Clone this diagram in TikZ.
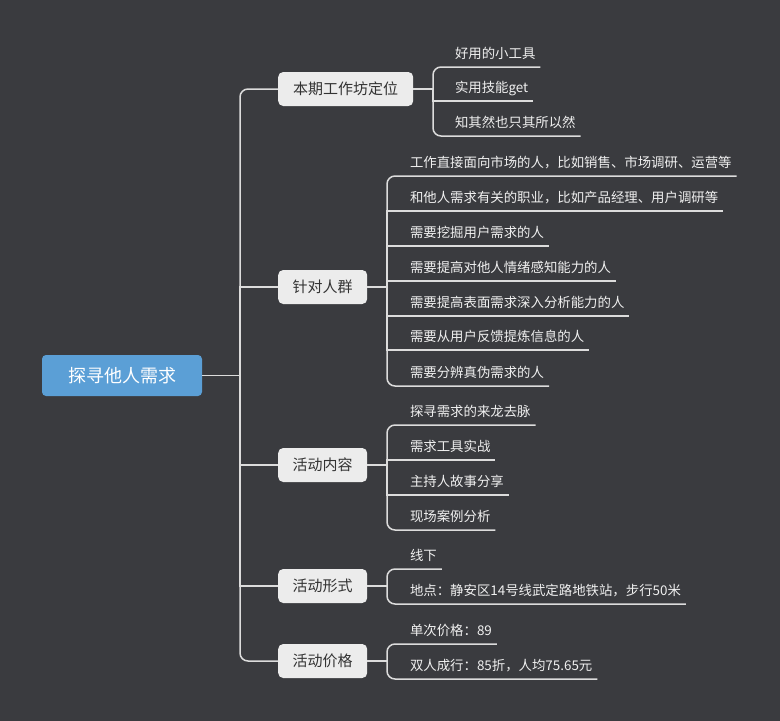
\documentclass[tikz,border=0pt]{standalone}
\usepackage{fontspec}
\setmainfont{Noto Sans CJK SC}
\usetikzlibrary{calc}
\definecolor{bgc}{HTML}{3A3B3F}
\definecolor{rootc}{HTML}{5B9FD6}
\definecolor{lonec}{HTML}{ECECEC}
\definecolor{linec}{HTML}{DCDCDC}
\definecolor{ltext}{HTML}{333333}
\tikzset{
  rootnode/.style={draw=none, fill=rootc, rounded corners=4pt, minimum width=160pt, minimum height=41pt, text=white, font=\fontsize{18}{20}\selectfont, inner sep=0pt},
  lonenode/.style={draw=none, fill=lonec, rounded corners=5pt, minimum height=34pt, text=ltext, font=\fontsize{15}{17}\selectfont, inner sep=0pt, anchor=west},
  leafnode/.style={anchor=base west, inner sep=0pt, outer sep=0pt, text=white!94!black, font=\fontsize{13.4}{15}\selectfont},
  conn/.style={draw=linec, line width=1.5pt},
  rconn/.style={conn, rounded corners=8pt},
}
\newcommand{\leafline}[5]{% name, bracket x, center y, underline y, rounded?
  \draw[conn,#5] (#2,#3) -- (#2,#4) -- ($(#1.base east)+(5,9)$);
}
\begin{document}
\begin{tikzpicture}[x=1pt,y=-1pt]
\fill[bgc] (0,0) rectangle (780,721);
\useasboundingbox (0,0) rectangle (780,721);

% root
\node[rootnode] (root) at (122,375.5) {探寻他人需求};
\coordinate (trunk) at (240,375.5);
\draw[conn] (root.east) -- (trunk);

% level 1
\node[lonenode, minimum width=135pt] (g1) at (278,89) {本期工作坊定位};
\node[lonenode, minimum width=89pt] (g2) at (278,287) {针对人群};
\node[lonenode, minimum width=89pt] (g3) at (278,465) {活动内容};
\node[lonenode, minimum width=89pt] (g4) at (278,586) {活动形式};
\node[lonenode, minimum width=89pt] (g5) at (278,661) {活动价格};

\draw[rconn] (trunk) -- (240,89) -- (g1.west);
\draw[conn] (trunk) -- (240,287) -- (g2.west);
\draw[conn] (trunk) -- (240,465) -- (g3.west);
\draw[conn] (trunk) -- (240,586) -- (g4.west);
\draw[rconn] (trunk) -- (240,661) -- (g5.west);

% group 1
\coordinate (b1) at (433,89);
\draw[conn] (g1.east) -- (b1);
\node[leafnode] (a1) at (455,58) {好用的小工具};
\node[leafnode] (a2) at (455,92) {实用技能get};
\node[leafnode] (a3) at (455,127) {知其然也只其所以然};
\leafline{a1}{433}{89}{67}{rounded corners=8pt}
\leafline{a2}{433}{89}{101}{}
\leafline{a3}{433}{89}{136}{rounded corners=8pt}

% group 2
\coordinate (b2) at (387,287);
\draw[conn] (g2.east) -- (b2);
\node[leafnode] (c1) at (410,167) {工作直接面向市场的人，比如销售、市场调研、运营等};
\node[leafnode] (c2) at (410,202) {和他人需求有关的职业，比如产品经理、用户调研等};
\node[leafnode] (c3) at (410,237) {需要挖掘用户需求的人};
\node[leafnode] (c4) at (410,272) {需要提高对他人情绪感知能力的人};
\node[leafnode] (c5) at (410,307) {需要提高表面需求深入分析能力的人};
\node[leafnode] (c6) at (410,341) {需要从用户反馈提炼信息的人};
\node[leafnode] (c7) at (410,377) {需要分辨真伪需求的人};
\leafline{c1}{387}{287}{176}{rounded corners=8pt}
\leafline{c2}{387}{287}{211}{}
\leafline{c3}{387}{287}{246}{}
\leafline{c4}{387}{287}{281}{}
\leafline{c5}{387}{287}{316}{}
\leafline{c6}{387}{287}{350}{}
\leafline{c7}{387}{287}{386}{rounded corners=8pt}

% group 3
\coordinate (b3) at (387,465);
\draw[conn] (g3.east) -- (b3);
\node[leafnode] (d1) at (410,416) {探寻需求的来龙去脉};
\node[leafnode] (d2) at (410,451) {需求工具实战};
\node[leafnode] (d3) at (410,486) {主持人故事分享};
\node[leafnode] (d4) at (410,521) {现场案例分析};
\leafline{d1}{387}{465}{425}{rounded corners=8pt}
\leafline{d2}{387}{465}{460}{}
\leafline{d3}{387}{465}{495}{}
\leafline{d4}{387}{465}{530}{rounded corners=8pt}

% group 4
\coordinate (b4) at (387,586);
\draw[conn] (g4.east) -- (b4);
\node[leafnode] (e1) at (410,560) {线下};
\node[leafnode] (e2) at (410,595) {地点：静安区14号线武定路地铁站，步行50米};
\leafline{e1}{387}{586}{569}{rounded corners=8pt}
\leafline{e2}{387}{586}{604}{rounded corners=8pt}

% group 5
\coordinate (b5) at (387,661);
\draw[conn] (g5.east) -- (b5);
\node[leafnode] (f1) at (410,635) {单次价格：89};
\node[leafnode] (f2) at (410,670) {双人成行：85折，人均75.65元};
\leafline{f1}{387}{661}{644}{rounded corners=8pt}
\leafline{f2}{387}{661}{679}{rounded corners=8pt}
\end{tikzpicture}
\end{document}
